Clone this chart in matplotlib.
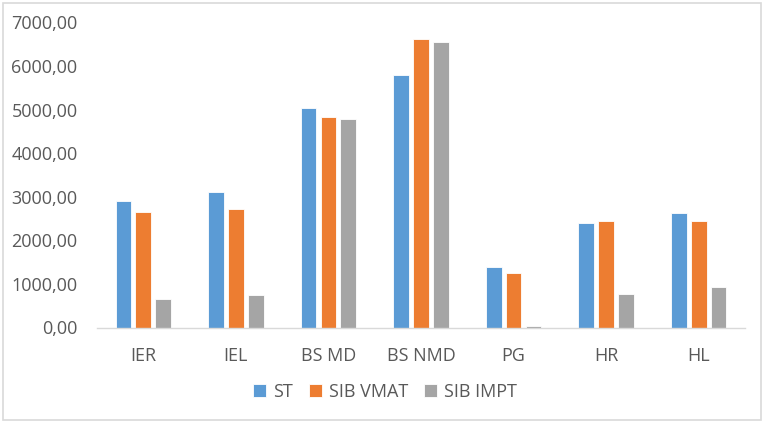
import matplotlib
matplotlib.use("Agg")
import matplotlib.pyplot as plt
import numpy as np
from matplotlib.ticker import FuncFormatter
from matplotlib.patches import Rectangle

categories = ["IER", "IEL", "BS MD", "BS NMD", "PG", "HR", "HL"]
series_names = ["ST", "SIB VMAT", "SIB IMPT"]
st = [2900, 3100, 5040, 5790, 1380, 2390, 2620]
sib_vmat = [2650, 2730, 4840, 6620, 1240, 2450, 2450]
sib_impt = [650, 750, 4780, 6560, 30, 780, 920]
colors = ["#5B9BD5", "#ED7D31", "#A5A5A5"]

plt.rcParams['font.family'] = ['Open Sans', 'DejaVu Sans']
fig = plt.figure(figsize=(7.65, 4.23), dpi=100)
ax = fig.add_axes([97/765, 1 - 327.5/423, (745-97)/765, (327.5-22.5)/423])

x = np.arange(len(categories))
w = 0.17
off = 0.215
for i, (vals, name) in enumerate(zip([st, sib_vmat, sib_impt], series_names)):
    ax.bar(x + (i-1)*off, vals, w, color=colors[i], label=name,
           edgecolor="white", linewidth=0.6)

ax.set_xlim(-0.5, len(categories)-0.5)
ax.set_ylim(0, 7000)
ax.set_yticks(np.arange(0, 7001, 1000))
ax.yaxis.set_major_formatter(FuncFormatter(lambda v, p: f"{v:.2f}".replace(".", ",")))
ax.set_xticks(x)
ax.set_xticklabels(categories)
for s in ["top", "right", "left"]:
    ax.spines[s].set_visible(False)
ax.spines["bottom"].set_color("#D9D9D9")
ax.spines["bottom"].set_linewidth(1)
ax.tick_params(axis="both", length=0, labelsize=13, colors="#595959")
ax.tick_params(axis="x", pad=14)
ax.tick_params(axis="y", pad=14)

leg = fig.legend(loc="center", bbox_to_anchor=(385/765, 1 - 392/423), ncol=3,
                 frameon=False, fontsize=13, handlelength=0.7, handleheight=0.7,
                 handletextpad=0.4, columnspacing=0.9, labelcolor="#595959")

fig.patches.append(Rectangle((3/765, 3/423), 758/765, 417/423, transform=fig.transFigure,
                             fill=False, edgecolor="#D9D9D9", linewidth=1.2))
fig.savefig("out.png", dpi=100)
